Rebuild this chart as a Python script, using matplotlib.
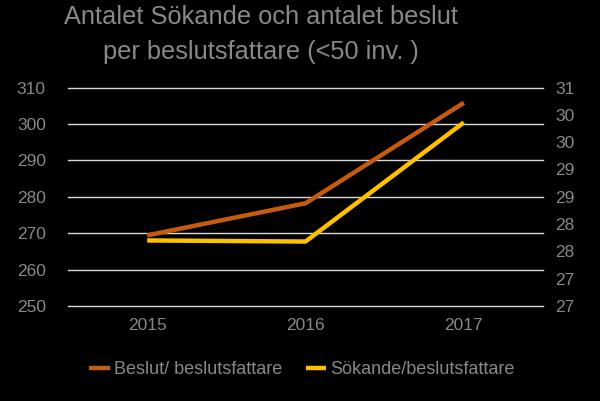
import matplotlib.pyplot as plt
import numpy as np

plt.rcParams['font.family'] = ['Liberation Sans', 'DejaVu Sans']

years = ['2015', '2016', '2017']
beslut = [269.4, 278.2, 305.8]       # left axis
sokande = [27.80, 27.78, 29.96]      # right axis
left_ticks = [250, 260, 270, 280, 290, 300, 310]
right_ticks = [26.6, 27.1, 27.6, 28.1, 28.6, 29.1, 29.6, 30.1, 30.6]
right_labels = ['27', '27', '28', '28', '29', '29', '30', '30', '31']

txt = '#888888'
grid = '#d9d9d9'

fig = plt.figure(figsize=(6, 4.01), dpi=100, facecolor='black')
ax = fig.add_axes([68/600, 1-306/401, 475/600, 218.5/401])
ax.set_facecolor('black')
ax2 = ax.twinx()

x = np.arange(len(years))
l1, = ax.plot(x, beslut, color='#c55a11', lw=3.2, solid_capstyle='butt', zorder=3,
              label='Beslut/ beslutsfattare')
l2, = ax2.plot(x, sokande, color='#ffc000', lw=3.2, solid_capstyle='butt', zorder=3,
               label='Sökande/beslutsfattare')

ax.set_xlim(-0.5, 2.5)
ax.set_ylim(250, 310)
ax2.set_ylim(26.6, 30.6)
ax.set_xticks(x)
ax.set_xticklabels(years)
ax.set_yticks(left_ticks)
ax2.set_yticks(right_ticks)
ax2.set_yticklabels(right_labels)

for a in (ax, ax2):
    for s in a.spines.values():
        s.set_visible(False)
    a.tick_params(length=0, colors=txt, labelsize=12.5)
ax.tick_params(axis='y', pad=16)
ax.tick_params(axis='x', pad=9)
ax2.tick_params(axis='y', pad=9)
ax.grid(axis='y', color=grid, lw=1)
for gl in ax.get_ygridlines():
    gl.set_clip_on(False)
ax.set_axisbelow(True)

fig.text(261/600, 1-17/401, 'Antalet Sökande och antalet beslut', ha='center', va='center',
         color=txt, fontsize=18.3)
fig.text(261/600, 1-52/401, 'per beslutsfattare (<50 inv. )', ha='center', va='center',
         color=txt, fontsize=18.3)

leg = fig.legend(handles=[l1, l2], loc='center', bbox_to_anchor=(302/600, 1-370/401), ncol=2,
                 frameon=False, fontsize=13, labelcolor=txt, handlelength=1.15,
                 handletextpad=0.22, columnspacing=1.3)

fig.savefig('out.png', dpi=100, facecolor='black')
